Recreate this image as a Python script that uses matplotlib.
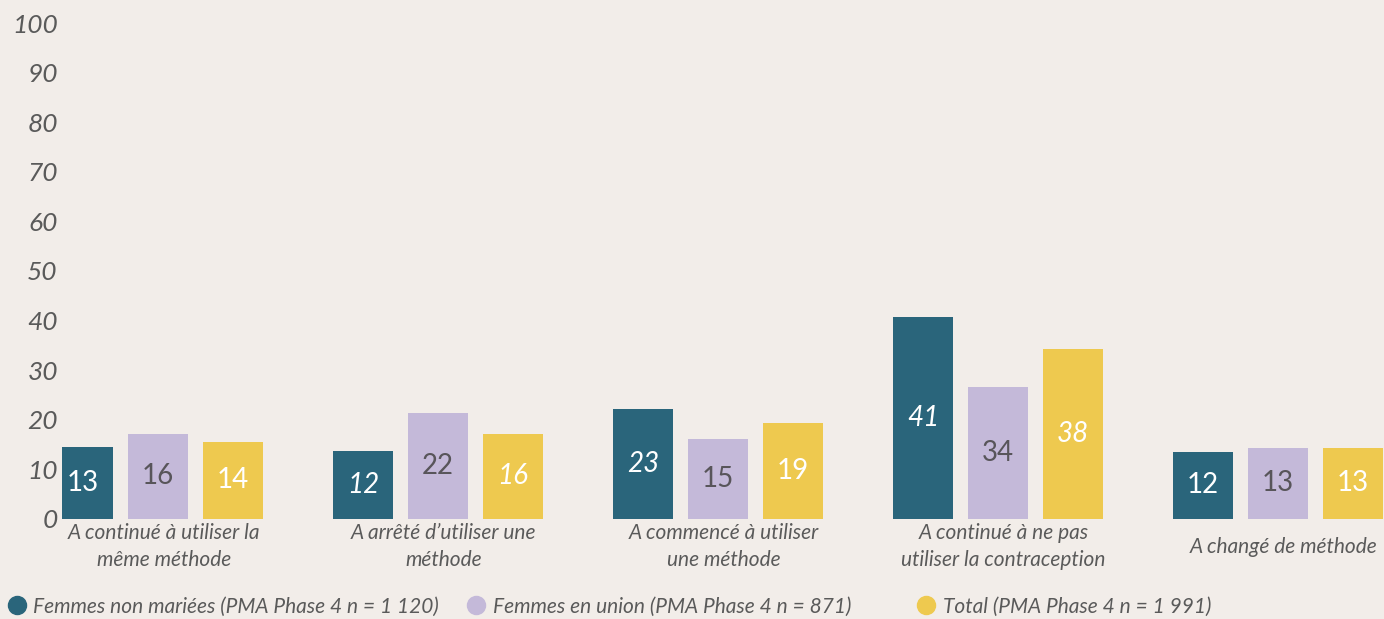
import matplotlib.pyplot as plt
import numpy as np
from matplotlib.lines import Line2D

categories = ['A continué à utiliser la\nmême méthode',
              'A arrêté d\u2019utiliser une\nméthode',
              'A commencé à utiliser\nune méthode',
              'A continué à ne pas\nutiliser la contraception',
              'A changé de méthode']
series_names = ['Femmes non mariées (PMA Phase 4 n = 1 120)',
                'Femmes en union (PMA Phase 4 n = 871)',
                'Total (PMA Phase 4 n = 1 991)']

# bar heights as drawn in the source picture
non_mariees = [14.6, 13.8, 22.1, 40.8, 13.6]
en_union = [17.2, 21.3, 16.2, 26.6, 14.4]
total = [15.6, 17.2, 19.3, 34.3, 14.4]

# printed value labels
non_mariees_lbl = ['13', '12', '23', '41', '12']
en_union_lbl = ['16', '22', '15', '34', '13']
total_lbl = ['14', '16', '19', '38', '13']
# italic flags for the printed labels
non_mariees_it = [False, True, True, True, False]
en_union_it = [False, False, False, False, False]
total_it = [False, True, False, True, False]

colors = ['#2a657b', '#c4b9d9', '#eec94f']
txt_colors = ['white', '#58555a', 'white']
bg = '#f2ede9'
grey = '#5a5a5a'

plt.rcParams['font.family'] = ['Lato', 'DejaVu Sans']

fig = plt.figure(figsize=(13.84, 6.19), dpi=100, facecolor=bg)
ax = fig.add_axes([0.0448, 0.1616, 1 - 0.0448, 0.8012])
ax.set_facecolor(bg)

ind = np.arange(len(categories))
step = 0.268
width = 0.212

all_vals = [non_mariees, en_union, total]
all_lbls = [non_mariees_lbl, en_union_lbl, total_lbl]
all_its = [non_mariees_it, en_union_it, total_it]

for k in range(3):
    xs = ind + (k - 1) * step
    ax.bar(xs, all_vals[k], width=width, color=colors[k])
    for x, v, t, it in zip(xs, all_vals[k], all_lbls[k], all_its[k]):
        ax.text(x, v / 2, t, ha='center', va='center', fontsize=20,
                color=txt_colors[k], style='italic' if it else 'normal')

ax.set_ylim(0, 100)
ax.set_xlim(-0.343, 4.379)
ax.set_yticks(np.arange(0, 101, 10))
ax.set_xticks([])
ax.tick_params(axis='y', length=0, pad=3, labelsize=19, labelcolor=grey)
for lbl in ax.get_yticklabels():
    lbl.set_style('italic')
for s in ax.spines.values():
    s.set_visible(False)

for x, c in zip(ind, categories):
    ax.text(x + 0.02, -0.056, c, transform=ax.get_xaxis_transform(),
            ha='center', va='center', fontsize=15, style='italic',
            color=grey, linespacing=1.45)

# one legend per series so each entry sits where it does in the source
leg_x = [0.0, 0.332, 0.657]
for c, name, lx in zip(colors, series_names, leg_x):
    h = Line2D([], [], marker='o', linestyle='none', markersize=13,
               markerfacecolor=c, markeredgecolor=c)
    leg = fig.legend([h], [name], loc='center left', bbox_to_anchor=(lx, 0.02),
                     frameon=False, handletextpad=0.2, borderaxespad=0,
                     borderpad=0.2, handlelength=1.2,
                     prop={'size': 15, 'style': 'italic'}, labelcolor=grey)

plt.savefig('out.png', dpi=100, facecolor=bg)
